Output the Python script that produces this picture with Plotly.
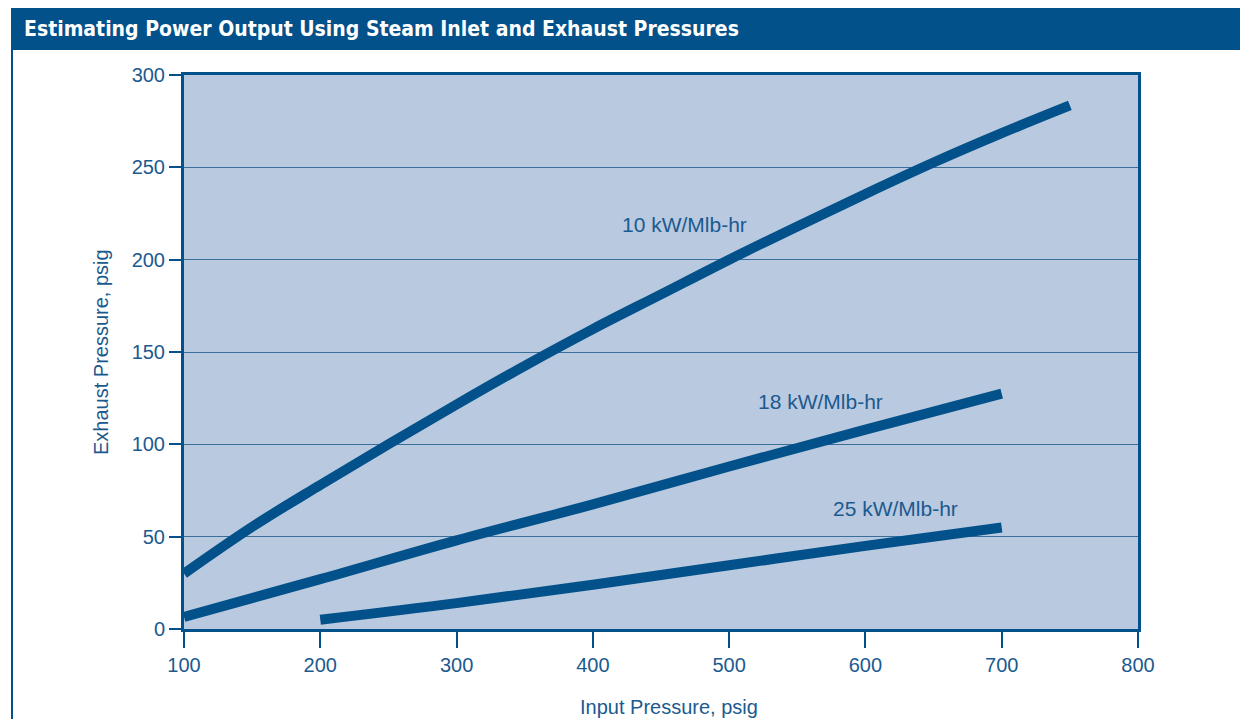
import plotly.graph_objects as go

# Data
x_10 = [100, 150, 200, 250, 300, 350, 400, 450, 500, 550, 600, 650, 700, 750]
y_10 = [30, 55.3, 78, 100, 121.6, 142.5, 162.4, 181.2, 200, 218, 235.6, 252.6, 268.5, 283.5]
x_18 = [100, 200, 300, 400, 500, 600, 700]
y_18 = [6.5, 27, 48, 67.5, 88, 108, 127.5]
x_25 = [200, 300, 400, 500, 600, 700]
y_25 = [5, 14, 24, 34.5, 45, 55]
labels = ["10 kW/Mlb-hr", "18 kW/Mlb-hr", "25 kW/Mlb-hr"]
label_x = [467, 567, 622]
label_y = [219, 123, 65]
x_ticks = [100, 200, 300, 400, 500, 600, 700, 800]
y_ticks = [0, 50, 100, 150, 200, 250, 300]
title_text = "Estimating Power Output Using Steam Inlet and Exhaust Pressures"
x_title = "Input Pressure, psig"
y_title = "Exhaust Pressure, psig"

BLUE = "#02518a"
TXT = "#1b5a8f"
BG = "#b9c9df"
GRID = "#3a6f9c"
FONT = "Liberation Sans, Arial, sans-serif"
TFONT = "Liberation Sans Narrow, DejaVu Sans Condensed, Arial Narrow, sans-serif"

fig = go.Figure()
for xs, ys in [(x_10, y_10), (x_18, y_18), (x_25, y_25)]:
    fig.add_trace(go.Scatter(x=xs, y=ys, mode="lines", line=dict(color=BLUE, width=10, shape="spline"),
                             showlegend=False, hoverinfo="skip"))

for t, lx, ly in zip(labels, label_x, label_y):
    fig.add_annotation(x=lx, y=ly, text=t, showarrow=False, font=dict(family=FONT, size=21, color=TXT))

W, H = 1240, 711
L, R, T, B = 176, 1130, 67, 621
def px(v):
    return (v - L) / (R - L)
def py(v):
    return (B - v) / (B - T)

# Title bar
fig.add_shape(type="rect", xref="paper", yref="paper", x0=px(3), x1=px(1260), y0=py(42), y1=py(-2),
              fillcolor=BLUE, line=dict(width=0), layer="below")
fig.add_shape(type="line", xref="paper", yref="paper", x0=px(4), x1=px(4), y0=py(42), y1=py(730),
              line=dict(color=BLUE, width=2))
fig.add_annotation(xref="paper", yref="paper", x=px(14), y=py(21), xanchor="left", yanchor="middle",
                   text="<b>" + title_text + "</b>",
                   showarrow=False, font=dict(family=TFONT, size=21, color="white"))

# Axis titles
fig.add_annotation(xref="paper", yref="paper", x=px(661), y=py(699), xanchor="center", yanchor="middle",
                   text=x_title, showarrow=False, font=dict(family=FONT, size=20, color=TXT))
fig.add_annotation(xref="paper", yref="paper", x=px(93), y=py(344), xanchor="center", yanchor="middle",
                   text=y_title, textangle=-90, showarrow=False, font=dict(family=FONT, size=20, color=TXT))

fig.update_layout(
    width=W, height=H,
    margin=dict(l=L, r=W - R, t=T, b=H - B, autoexpand=False),
    paper_bgcolor="white", plot_bgcolor=BG,
    font=dict(family=FONT, size=20, color=TXT),
    xaxis=dict(range=[100, 800], tickvals=x_ticks, showgrid=False, zeroline=False, automargin=False,
               showline=True, linecolor=BLUE, linewidth=3, mirror=True,
               ticks="outside", ticklen=16, tickwidth=1.5, tickcolor=BLUE),
    yaxis=dict(range=[0, 300], tickvals=y_ticks, showgrid=True, gridcolor=GRID, gridwidth=1.3, zeroline=False,
               automargin=False,
               showline=True, linecolor=BLUE, linewidth=3, mirror=True,
               ticks="outside", ticklen=12, tickwidth=1.5, tickcolor=BLUE),
)

fig.write_html("out.html")
